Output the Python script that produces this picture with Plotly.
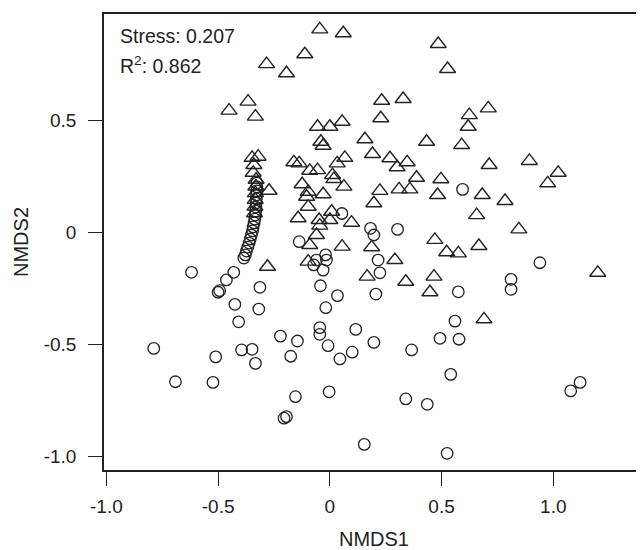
import plotly.graph_objects as go

# Triangles (group 1)
tri_x = [-0.045, 0.060, -0.112, -0.283, -0.194, -0.366, -0.451, -0.333, -0.055, 0.000,
         0.055, -0.040, -0.030, 0.157, -0.348, -0.321, -0.340, -0.343, -0.161, -0.137,
         -0.090, -0.055, 0.033, 0.067, 0.012, 0.018, -0.124, -0.272, -0.097, -0.104,
         -0.030, 0.063, 0.191, -0.097, -0.142, -0.048, -0.045, 0.008, 0.000, 0.097,
         0.197, -0.090, -0.060, 0.055, -0.097, 0.187, 0.485, 0.527, 0.232, 0.328,
         0.228, 0.624, 0.709, 0.619, 0.433, 0.590, 0.269, 0.301, 0.346, 0.388,
         0.497, 0.713, 0.893, 1.022, 0.975, 0.224, 0.310, 0.358, 0.482, 0.682,
         0.784, 0.657, 0.846, 0.470, 0.523, 0.575, 0.667, 0.291, 1.199, 0.167,
         0.340, 0.466, 0.448, 0.690, -0.279,
         -0.330, -0.331, -0.333, -0.334, -0.335, -0.337]
tri_y = [0.907, 0.890, 0.796, 0.752, 0.711, 0.584, 0.544, 0.517, 0.472, 0.472,
         0.494, 0.405, 0.387, 0.416, 0.333, 0.338, 0.301, 0.266, 0.313, 0.308,
         0.275, 0.278, 0.308, 0.333, 0.256, 0.238, 0.215, 0.186, 0.181, 0.159,
         0.170, 0.204, 0.350, 0.114, 0.063, 0.055, 0.030, 0.092, 0.055, 0.043,
         0.130, -0.057, -0.012, -0.064, -0.131, -0.067, 0.842, 0.730, 0.588, 0.596,
         0.510, 0.524, 0.554, 0.472, 0.405, 0.390, 0.331, 0.291, 0.313, 0.244,
         0.237, 0.301, 0.319, 0.266, 0.219, 0.185, 0.192, 0.192, 0.167, 0.167,
         0.140, 0.077, 0.013, -0.034, -0.089, -0.094, -0.061, -0.124, -0.181, -0.198,
         -0.221, -0.198, -0.268, -0.389, -0.154,
         0.235, 0.205, 0.175, 0.145, 0.115, 0.085]

# Circles (group 2)
circ_x = [-0.327, -0.327, -0.327, -0.328, -0.329, -0.330, -0.331, -0.332, -0.334, -0.336,
          -0.339, -0.343, -0.346, -0.351, -0.356, -0.361, -0.367, -0.373, -0.378, -0.385,
          -0.619, -0.430, -0.463, -0.500, -0.493, -0.313, -0.425, -0.318, -0.408, -0.788,
          -0.511, -0.395, -0.348, -0.333, -0.691, -0.523, -0.221, -0.145, -0.175, -0.154,
          -0.205, -0.194, -0.045, -0.045, -0.008, 0.045, 0.100, 0.116, -0.003, 0.154,
          -0.018, -0.042, 0.034, -0.030, -0.072, -0.060, -0.019, -0.015, -0.137, 0.054,
          0.182, 0.197, 0.303, 0.594, 0.216, 0.224, 0.206, 0.940, 0.811, 0.811,
          0.575, 0.560, 0.493, 0.578, 0.197, 0.366, 0.541, 0.340, 0.436, 1.078,
          1.120, 0.525]
circ_y = [0.220, 0.203, 0.185, 0.167, 0.149, 0.131, 0.113, 0.095, 0.077, 0.059,
          0.042, 0.024, 0.006, -0.012, -0.030, -0.048, -0.066, -0.084, -0.101, -0.115,
          -0.179, -0.179, -0.213, -0.268, -0.261, -0.246, -0.322, -0.343, -0.400, -0.519,
          -0.557, -0.526, -0.523, -0.586, -0.668, -0.671, -0.464, -0.486, -0.554, -0.735,
          -0.831, -0.824, -0.426, -0.456, -0.507, -0.566, -0.536, -0.434, -0.713, -0.948,
          -0.337, -0.239, -0.283, -0.169, -0.146, -0.124, -0.101, -0.124, -0.042, 0.084,
          0.018, -0.012, 0.013, 0.192, -0.124, -0.181, -0.276, -0.136, -0.210, -0.255,
          -0.266, -0.397, -0.474, -0.478, -0.492, -0.526, -0.635, -0.745, -0.769, -0.709,
          -0.671, -0.988]

x_tickvals = [-1.0, -0.5, 0, 0.5, 1.0]
x_ticktext = ["-1.0", "-0.5", "0", "0.5", "1.0"]
y_tickvals = [-1.0, -0.5, 0, 0.5]
y_ticktext = ["-1.0", "-0.5", "0", "0.5"]

stress_text = "Stress: 0.207"
r2_text = "R<sup>2</sup>: 0.862"

INK = "#222222"
FONT = "Liberation Sans, Arial, Helvetica, sans-serif"

fig = go.Figure()
fig.add_trace(go.Scatter(
    x=tri_x, y=tri_y, mode="markers",
    marker=dict(symbol="triangle-up-open", size=14, color=INK, line=dict(width=1.4, color=INK)),
    showlegend=False, hoverinfo="skip"))
fig.add_trace(go.Scatter(
    x=circ_x, y=circ_y, mode="markers",
    marker=dict(symbol="circle-open", size=11.5, color=INK, line=dict(width=1.3, color=INK)),
    showlegend=False, hoverinfo="skip"))

fig.update_layout(
    width=636, height=542,
    margin=dict(l=96, r=0, t=6, b=80),
    paper_bgcolor="white", plot_bgcolor="white",
    font=dict(family=FONT, size=18, color=INK),
    showlegend=False,
)
fig.update_xaxes(
    range=[-1.0107, 1.406], showgrid=False, zeroline=False,
    tickmode="array", tickvals=x_tickvals, ticktext=x_ticktext,
    ticks="outside", ticklen=14, tickwidth=1.3, tickcolor=INK,
    showline=True, linecolor=INK, linewidth=1.5, mirror=True,
    tickfont=dict(size=19, color=INK, family=FONT),
    ticklabelstandoff=4,
    title=dict(text="NMDS1", font=dict(size=20, color=INK, family=FONT), standoff=17),
)
fig.update_yaxes(
    range=[-1.0626, 0.9759], showgrid=False, zeroline=False,
    tickmode="array", tickvals=y_tickvals, ticktext=y_ticktext,
    ticks="outside", ticklen=14, tickwidth=1.3, tickcolor=INK,
    showline=True, linecolor=INK, linewidth=1.5, mirror=False,
    tickfont=dict(size=19, color=INK, family=FONT),
    ticklabelstandoff=8,
    title=dict(text="NMDS2", font=dict(size=20, color=INK, family=FONT), standoff=10),
)

fig.add_annotation(text=stress_text, xref="paper", yref="paper", x=0.026, y=0.952,
                   xanchor="left", yanchor="middle", showarrow=False,
                   font=dict(size=19.5, color=INK, family=FONT))
fig.add_annotation(text=r2_text, xref="paper", yref="paper", x=0.026, y=0.888,
                   xanchor="left", yanchor="middle", showarrow=False,
                   font=dict(size=19.5, color=INK, family=FONT))

fig.write_html("out.html")
